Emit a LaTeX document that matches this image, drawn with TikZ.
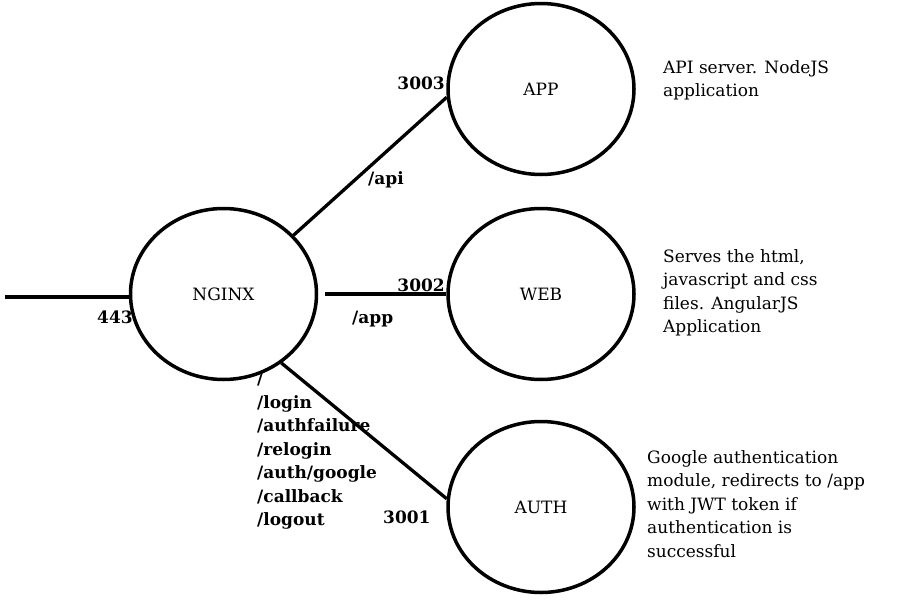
\documentclass[tikz,border=0pt]{standalone}
\usepackage{fontspec}
\setmainfont{DejaVu Serif}
\usetikzlibrary{shapes.geometric,backgrounds}

\begin{document}
\begin{tikzpicture}[
x=1pt, y=-1pt,
font=\fontsize{17}{23.5}\selectfont,
service/.style={ellipse, draw, line width=3.5pt, fill=white, minimum width=186pt, minimum height=171pt, inner sep=0pt},
link/.style={line width=3.3pt},
port/.style={font=\fontsize{17}{23.5}\selectfont\bfseries, inner sep=0pt},
note/.style={align=left, inner sep=0pt, anchor=north west}
]
    \useasboundingbox (0,0) rectangle (900,608);

    % Services
    \node[service] (nginx) at (223.5,294) {NGINX};
    \node[service] (app) at (541,89) {APP};
    \node[service] (web) at (541,294) {WEB};
    \node[service] (auth) at (541,507) {AUTH};

    % Connections
    \coordinate (client) at (5,297);
    \draw[link] (client) -- (client -| nginx.west);
    \draw[link] (nginx.40) -- (app.185);
    \draw[link, shorten <=7pt] (nginx.east) -- (web.west);
    \draw[link] (nginx.-50) -- (auth.175);

    % Ports and routes
    \begin{scope}[on background layer]
    \node[port, anchor=base west] (p443) at (97,323) {443};
    \node[port, anchor=base east] (p3003) at (445,89) {3003};
    \node[port, anchor=base west] (api) at (368,184) {/api};
    \node[port, anchor=base east] (p3002) at (445,291) {3002};
    \node[port, anchor=base west] (appurl) at (352,323) {/app};
    \node[port, anchor=base west] (p3001) at (383,523) {3001};
    \node[port, note] (routes) at (257,372) {/\\/login\\/authfailure\\/relogin\\/auth/google\\/callback\\/logout};
    \end{scope}

    % Descriptions
    \node[note] (appnote) at (663,60) {API server. NodeJS\\application};
    \node[note] (webnote) at (663,249) {Serves the html,\\javascript and css\\files. AngularJS\\Application};
    \node[note] (authnote) at (647,450) {Google authentication\\module, redirects to /app\\with JWT token if\\authentication is\\successful};

\end{tikzpicture}
\end{document}
